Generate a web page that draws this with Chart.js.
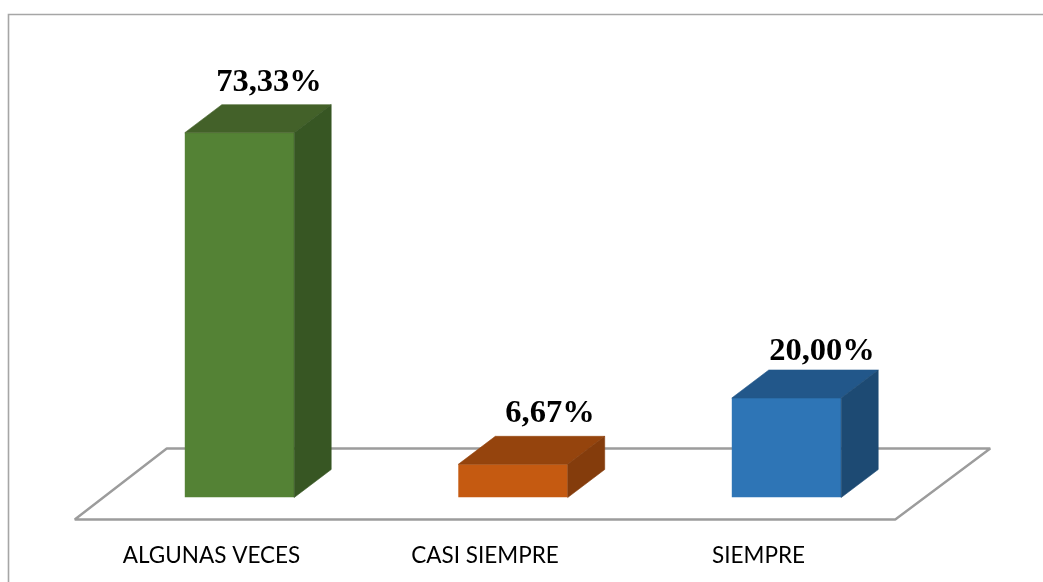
<!DOCTYPE html>
<html>
<head>
<meta charset="utf-8">
<style>html,body{margin:0;padding:0;background:#fff;overflow:hidden}canvas{display:block}</style>
<script src="https://cdn.jsdelivr.net/npm/chart.js@4/dist/chart.umd.min.js"></script>
</head>
<body>
<canvas id="c" width="1043" height="582"></canvas>
<script>
const categories = ["ALGUNAS VECES", "CASI SIEMPRE", "SIEMPRE"];
const percentages = [73.33, 6.67, 20.00];
const valueLabels = ["73,33%", "6,67%", "20,00%"];
const frontColors = ["#548235", "#C55A11", "#2E75B6"];
const topColors = ["#436129", "#95440D", "#22578A"];
const sideColors = ["#375623", "#843C0C", "#1D4A73"];
const labelShifts = [29.5, 37, 35.5];
const labelGaps = [14, 14, 10];

const DX = 37, DY = 28;

function poly(ctx, pts, fill) {
  ctx.beginPath();
  pts.forEach((p, i) => i ? ctx.lineTo(p[0], p[1]) : ctx.moveTo(p[0], p[1]));
  ctx.closePath();
  ctx.fillStyle = fill;
  ctx.strokeStyle = fill;
  ctx.lineWidth = 0.6;
  ctx.fill();
  ctx.stroke();
}

const frame3d = {
  id: "frame3d",
  beforeDatasetsDraw(chart) {
    const { ctx, chartArea: a } = chart;
    ctx.save();
    ctx.strokeStyle = "#a6a6a6";
    ctx.lineWidth = 1.6;
    ctx.beginPath();
    ctx.moveTo(8.5, 582); ctx.lineTo(8.5, 14.5); ctx.lineTo(1043, 14.5);
    ctx.stroke();
    ctx.strokeStyle = "#9c9c9c";
    ctx.lineWidth = 2.4;
    ctx.lineJoin = "bevel";
    ctx.beginPath();
    ctx.moveTo(a.left - 28, a.bottom + 22);
    ctx.lineTo(a.right - 28, a.bottom + 22);
    ctx.lineTo(a.right + 67, a.bottom - 49);
    ctx.lineTo(a.left + 64, a.bottom - 49);
    ctx.closePath();
    ctx.stroke();
    ctx.restore();
  },
  afterDatasetsDraw(chart) {
    const { ctx } = chart;
    const bars = chart.getDatasetMeta(0).data;
    ctx.save();
    bars.forEach((b, i) => {
      const l = b.x - b.width / 2, r = b.x + b.width / 2, t = b.y, bt = b.base;
      poly(ctx, [[l, t], [r, t], [r + DX, t - DY], [l + DX, t - DY]], topColors[i]);
      poly(ctx, [[r, t], [r + DX, t - DY], [r + DX, bt - DY], [r, bt]], sideColors[i]);
      ctx.fillStyle = "#000";
      ctx.font = "bold 32.5px 'Liberation Serif'";
      ctx.textAlign = "center";
      ctx.textBaseline = "alphabetic";
      ctx.fillText(valueLabels[i], b.x + labelShifts[i], t - DY - labelGaps[i]);
    });
    ctx.restore();
  }
};

new Chart(document.getElementById("c"), {
  type: "bar",
  data: {
    labels: categories,
    datasets: [{
      data: percentages,
      backgroundColor: frontColors,
      borderWidth: 0,
      categoryPercentage: 1,
      barPercentage: 0.4
    }]
  },
  plugins: [frame3d],
  options: {
    responsive: false,
    animation: false,
    events: [],
    layout: { padding: { left: 102.75, right: 119.75, top: 99.5, bottom: 0 } },
    plugins: { legend: { display: false }, tooltip: { enabled: false } },
    scales: {
      y: { display: false, min: 0, max: 80 },
      x: {
        grid: { display: false },
        border: { display: false },
        afterFit(s) { s.height = 84.5; },
        ticks: {
          color: "#000",
          padding: 37,
          labelOffset: -28,
          maxRotation: 0,
          autoSkip: false,
          font: { family: "Lato", size: 22.5 }
        }
      }
    }
  }
});
</script>
</body>
</html>
